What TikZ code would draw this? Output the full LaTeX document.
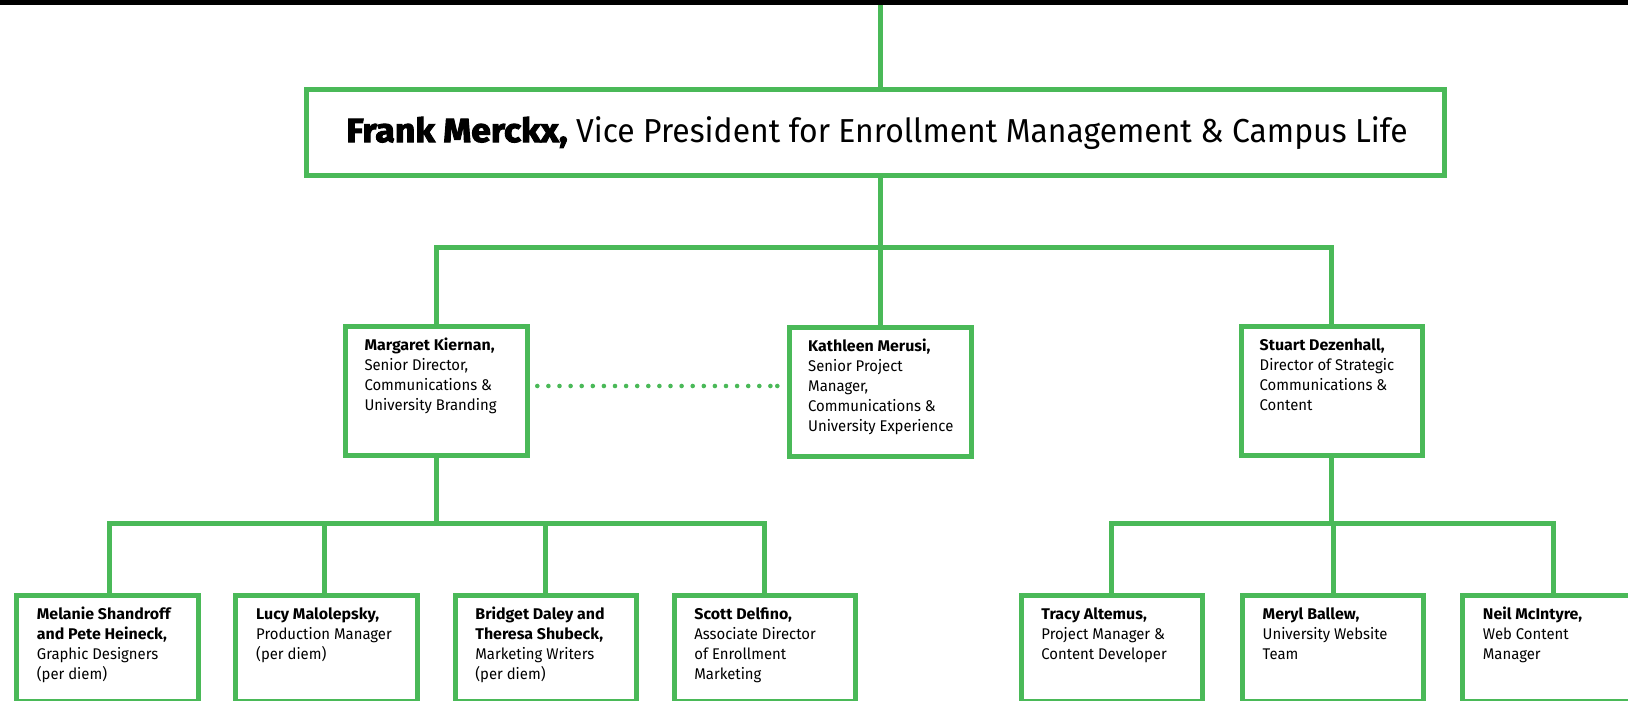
\documentclass[tikz,border=0pt]{standalone}
\usepackage{fontspec}
\setmainfont{Fira Sans}[UprightFeatures={FakeStretch=0.96},BoldFeatures={FakeStretch=1.03}]
\newfontfamily\heavyfont{Fira Sans}[FakeStretch=1.07,BoldFeatures={FakeBold=3}]
\definecolor{orggreen}{RGB}{74,185,88}
\newcommand\mystrut{\rule{0pt}{15pt}}
\tikzset{
  orgbox/.style={draw=orggreen, line width=5pt, inner sep=0pt, anchor=north west},
  lvtwo/.style={orgbox, minimum width=181.5pt, minimum height=129pt},
  lvthree/.style={orgbox, minimum width=181.5pt, minimum height=106.5pt},
  txt/.style={inner sep=0pt, align=left, anchor=north west, font=\fontsize{15.5}{20}\selectfont},
  conn/.style={draw=orggreen, line width=5pt, line join=miter},
  dotline/.style={draw=orggreen, line width=4.6pt, line cap=round, dash pattern=on 0pt off 11.1pt}
}
\begin{document}
\begin{tikzpicture}[x=1pt,y=-1pt]
\useasboundingbox (0,0) rectangle (1628,701);
\fill[black] (0,0) rectangle (1628,5);
% top box
\node[orgbox, minimum width=1138.2pt, minimum height=86.7pt] (vp) at (303.5,86.7) {};
\node[inner sep=0pt, anchor=base, font=\fontsize{33.2}{38}\selectfont] (vpt) at (877,142)
  {{\heavyfont\bfseries Frank Merckx,} Vice President for Enrollment Management \& Campus Life};
% level two
\node[lvtwo] (m) at (343.3,323.5) {};
\node[lvtwo] (k) at (787,324.5) {};
\node[lvtwo] (s) at (1238.5,323.5) {};
\node[txt] (mt) at ([xshift=21pt,yshift=-11.5pt]m.north west)
  {\mystrut\textbf{Margaret Kiernan,}\\Senior Director,\\Communications \&\\University Branding};
\node[txt] (kt) at ([xshift=21pt,yshift=-11.5pt]k.north west)
  {\mystrut\textbf{Kathleen Merusi,}\\Senior Project\\Manager,\\Communications \&\\University Experience};
\node[txt] (st) at ([xshift=21pt,yshift=-11.5pt]s.north west)
  {\mystrut\textbf{Stuart Dezenhall,}\\Director of Strategic\\Communications \&\\Content};
% level three
\node[lvthree] (b1) at (14,592.5) {};
\node[lvthree] (b2) at (233.3,592.5) {};
\node[lvthree] (b3) at (452.5,592.5) {};
\node[lvthree] (b4) at (671.5,592.5) {};
\node[lvthree] (c1) at (1018.5,592.5) {};
\node[lvthree] (c2) at (1239.8,592.5) {};
\node[lvthree] (c3) at (1460,592.5) {};
\node[txt] (b1t) at ([xshift=22.7pt,yshift=-11.5pt]b1.north west)
  {\mystrut\textbf{Melanie Shandroff}\\\textbf{and Pete Heineck,}\\Graphic Designers\\(per diem)};
\node[txt] (b2t) at ([xshift=22.7pt,yshift=-11.5pt]b2.north west)
  {\mystrut\textbf{Lucy Malolepsky,}\\Production Manager\\(per diem)};
\node[txt] (b3t) at ([xshift=22.7pt,yshift=-11.5pt]b3.north west)
  {\mystrut\textbf{Bridget Daley and}\\\textbf{Theresa Shubeck,}\\Marketing Writers\\(per diem)};
\node[txt] (b4t) at ([xshift=22.7pt,yshift=-11.5pt]b4.north west)
  {\mystrut\textbf{Scott Delfino,}\\Associate Director\\of Enrollment\\Marketing};
\node[txt] (c1t) at ([xshift=22.7pt,yshift=-11.5pt]c1.north west)
  {\mystrut\textbf{Tracy Altemus,}\\Project Manager \&\\Content Developer};
\node[txt] (c2t) at ([xshift=22.7pt,yshift=-11.5pt]c2.north west)
  {\mystrut\textbf{Meryl Ballew,}\\University Website\\Team};
\node[txt] (c3t) at ([xshift=22.7pt,yshift=-11.5pt]c3.north west)
  {\mystrut\textbf{Neil McIntyre,}\\Web Content\\Manager};
% connectors
\coordinate (topc) at (880,5);
\coordinate (bar1) at (880,247.5);
\coordinate (bar2) at (434,523);
\coordinate (b1in) at ([xshift=2.2pt]b1.north);
\coordinate (b2in) at ([xshift=-2pt]b2.north);
\draw[conn] (topc) -- (topc |- vp.north);
\draw[conn] (bar1 |- vp.south) -- (bar1);
\draw[conn] (m.north) |- (bar1) -| (s.north);
\draw[conn] (bar1) -- (bar1 |- k.north);
\draw[conn] (m.south) -- (m.south |- bar2);
\draw[conn] (b1in) |- (bar2) -| (b4.north);
\draw[conn] (b2in) -- (b2in |- bar2);
\draw[conn] (b3.north) -- (b3.north |- bar2);
\draw[conn] (s.south) -- (s.south |- bar2);
\draw[conn] (c1.north) |- (s.south |- bar2) -| (c3.north);
\draw[conn] (c2.north) -- (c2.north |- bar2);
% dotted link
\coordinate (dotA) at (537.3,386);
\coordinate (dotB) at (777.3,386);
\draw[dotline] (dotA) -- (dotB);
\fill[orggreen] (dotB) circle (2.3pt);
\end{tikzpicture}
\end{document}
